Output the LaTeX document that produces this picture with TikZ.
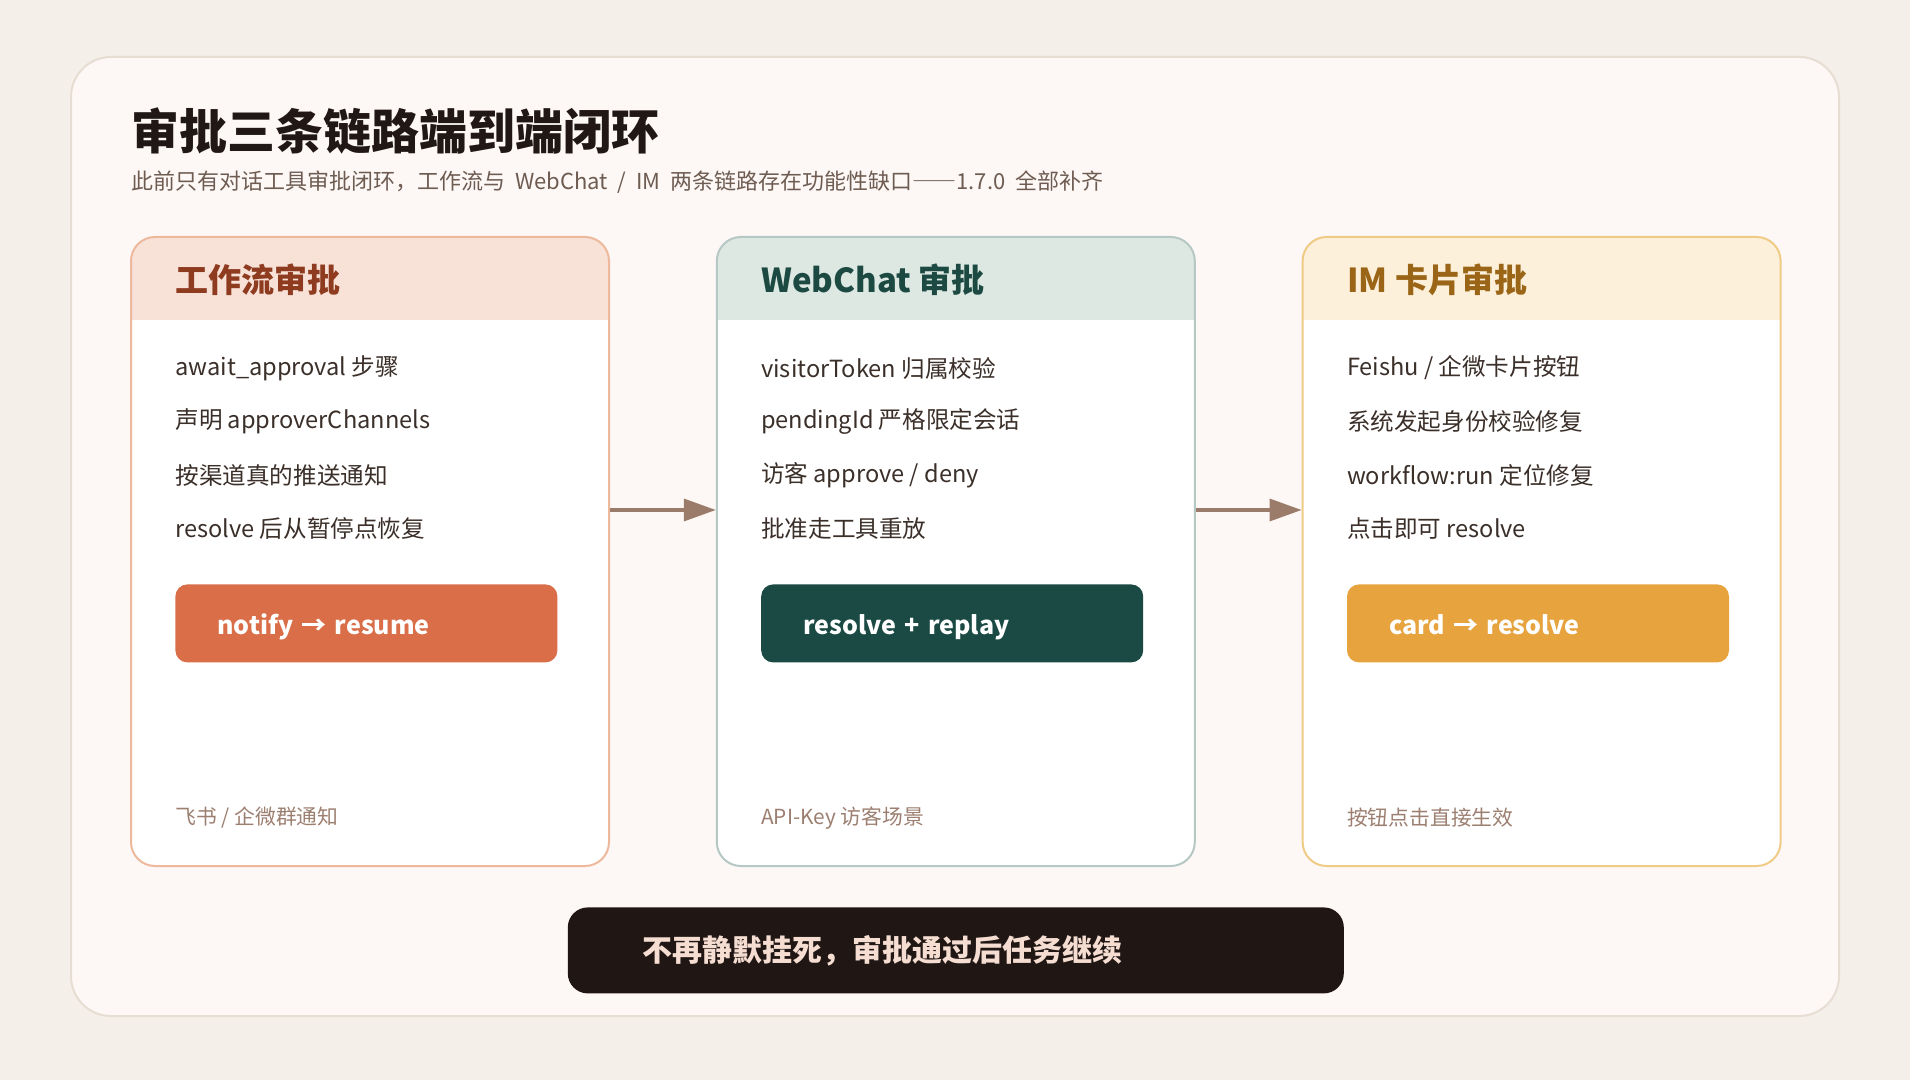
\documentclass[tikz,border=0pt]{standalone}
\usepackage{fontspec}
\setmainfont{Noto Sans CJK SC}
\newfontfamily\blackfont{Noto Sans CJK SC Black}
\newfontfamily\subfont{Noto Sans CJK SC}[WordSpace=2]
\usetikzlibrary{arrows.meta,positioning}
\definecolor{apbg}{HTML}{F4EFE9}
\definecolor{appanel}{HTML}{FDF8F5}
\definecolor{appanelline}{HTML}{E6DDD3}
\definecolor{apink}{HTML}{211815}
\definecolor{apsub}{HTML}{6E5C52}
\definecolor{aptext}{HTML}{3B2F29}
\definecolor{apfoot}{HTML}{9C7F70}
\definecolor{aparrow}{HTML}{9B7B69}
\definecolor{aprusthead}{HTML}{F8E2D8}
\definecolor{aprustline}{HTML}{EDB89C}
\definecolor{aprust}{HTML}{8E3B1F}
\definecolor{aprustbtn}{HTML}{D96E48}
\definecolor{appinehead}{HTML}{DDE8E3}
\definecolor{appineline}{HTML}{B5C8C5}
\definecolor{appine}{HTML}{1C4A43}
\definecolor{appinebtn}{HTML}{1B4A45}
\definecolor{apgoldhead}{HTML}{FDF0DA}
\definecolor{apgoldline}{HTML}{EFCB86}
\definecolor{apgold}{HTML}{9A6516}
\definecolor{apgoldbtn}{HTML}{E7A33D}
\definecolor{apebony}{HTML}{201714}
\definecolor{apblush}{HTML}{F6DDD2}

\begin{document}
\begin{tikzpicture}[x=0.5pt,y=-0.5pt,
  card/.style 2 args={draw=#1,line width=1pt,fill=white,rounded corners=12pt,
    minimum width=239pt,minimum height=314.5pt,inner sep=0pt,
    path picture={\fill[#2,sharp corners] (path picture bounding box.north west)
      rectangle ([yshift=-41.5pt]path picture bounding box.north east);}},
  head/.style={font=\fontsize{16.5}{20}\selectfont\bfseries,text=#1,
    anchor=west,inner sep=0pt},
  item/.style={font=\fontsize{11.8}{14}\selectfont,text=aptext,
    anchor=west,inner sep=0pt},
  btn/.style={fill=#1,rounded corners=6pt,minimum width=191pt,
    minimum height=39pt,text width=149pt,inner xsep=21pt,inner ysep=0pt,
    text height=13.3pt,text depth=2.5pt,align=left,anchor=north west,
    font=\fontsize{12.5}{15}\selectfont\bfseries,text=white},
  foot/.style={font=\fontsize{10.4}{12}\selectfont,text=apfoot,
    anchor=west,inner sep=0pt},
  arr/.style={->,>={Triangle[length=16pt,width=11pt]},line width=1.7pt,
    draw=aparrow},
]
\fill[apbg] (0,0) rectangle (1910,1080);
\draw[appanelline,fill=appanel,line width=1pt,rounded corners=20pt]
  (71,57) rectangle (1839,1016);

\node[font=\fontsize{24}{28}\selectfont\blackfont,text=apink,anchor=west,
      inner sep=0pt] (title) at (131,130.5) {审批三条链路端到端闭环};
\node[font=\fontsize{11}{13}\selectfont\subfont,
      text=apsub,inner sep=0pt,below=25.75pt of title.west,anchor=west]
  (subtitle) {此前只有对话工具审批闭环，工作流与 WebChat / IM
  两条链路存在功能性缺口{\addfontfeatures{RawFeature=+fwid}——}1.7.0 全部补齐};

\node[card={aprustline}{aprusthead}] (wf) at (370,551.5) {};
\node[card={appineline}{appinehead},right=52.9pt of wf] (wc) {};
\node[card={apgoldline}{apgoldhead},right=52.9pt of wc] (im) {};

\node[head=aprust] (wfhead) at ([xshift=22.5pt,yshift=-22pt]wf.north west)
  {工作流审批};
\node[item] (wf1) at ([xshift=22.5pt,yshift=-66pt]wf.north west)
  {await\_approval 步骤};
\node[item,below=26.75pt of wf1.west,anchor=west] (wf2) {声明 approverChannels};
\node[item,below=26.75pt of wf2.west,anchor=west] (wf3) {按渠道真的推送通知};
\node[item,below=26.75pt of wf3.west,anchor=west] (wf4) {resolve 后从暂停点恢复};
\node[btn=aprustbtn] (wfbtn) at ([xshift=22.5pt,yshift=-174pt]wf.north west)
  {notify → resume};
\node[foot] (wffoot) at ([xshift=22.5pt,yshift=24.5pt]wf.south west)
  {飞书 / 企微群通知};

\node[head=appine] (wchead) at ([xshift=22.5pt,yshift=-22pt]wc.north west)
  {WebChat 审批};
\node[item] (wc1) at ([xshift=22.5pt,yshift=-66pt]wc.north west)
  {visitorToken 归属校验};
\node[item,below=26.75pt of wc1.west,anchor=west] (wc2) {pendingId 严格限定会话};
\node[item,below=26.75pt of wc2.west,anchor=west] (wc3) {访客 approve / deny};
\node[item,below=26.75pt of wc3.west,anchor=west] (wc4) {批准走工具重放};
\node[btn=appinebtn] (wcbtn) at ([xshift=22.5pt,yshift=-174pt]wc.north west)
  {resolve + replay};
\node[foot] (wcfoot) at ([xshift=22.5pt,yshift=24.5pt]wc.south west)
  {API-Key 访客场景};

\node[head=apgold] (imhead) at ([xshift=22.5pt,yshift=-22pt]im.north west)
  {IM 卡片审批};
\node[item] (im1) at ([xshift=22.5pt,yshift=-66pt]im.north west)
  {Feishu / 企微卡片按钮};
\node[item,below=26.75pt of im1.west,anchor=west] (im2) {系统发起身份校验修复};
\node[item,below=26.75pt of im2.west,anchor=west] (im3) {workflow:run 定位修复};
\node[item,below=26.75pt of im3.west,anchor=west] (im4) {点击即可 resolve};
\node[btn=apgoldbtn] (imbtn) at ([xshift=22.5pt,yshift=-174pt]im.north west)
  {card → resolve};
\node[foot] (imfoot) at ([xshift=22.5pt,yshift=24.5pt]im.south west)
  {按钮点击直接生效};

\draw[arr] ([yshift=20.75pt]wf.east) -- ([yshift=20.75pt]wc.west);
\draw[arr] ([yshift=20.75pt]wc.east) -- ([yshift=20.75pt]im.west);

\node[fill=apebony,rounded corners=10pt,minimum width=388pt,
      minimum height=43pt,text width=313pt,inner xsep=37.5pt,align=left,
      font=\fontsize{15}{18}\selectfont\bfseries,text=apblush,
      below=20pt of wc] (motto) {不再静默挂死，审批通过后任务继续};
\end{tikzpicture}
\end{document}
